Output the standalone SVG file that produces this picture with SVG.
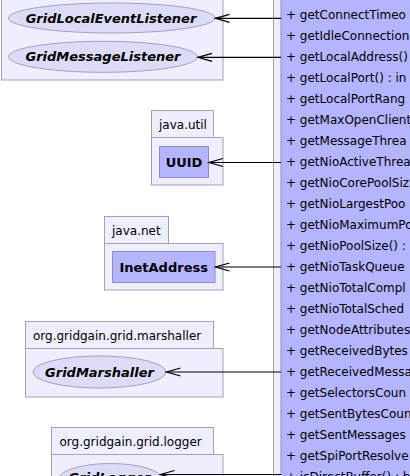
<svg xmlns="http://www.w3.org/2000/svg" width="410" height="476" viewBox="0 0 410 476">
<style>
.pkg{fill:#eeeefc;stroke:#a3a3b8;stroke-width:1}
.cls{fill:#b4b4ff;stroke:#8f8fb8;stroke-width:1}
.itf{fill:#dcdcf6;stroke:#a0a0c4;stroke-width:1}
.lbl{font-family:"DejaVu Sans",sans-serif;font-size:12px;fill:#000}
.nm{font-family:"DejaVu Sans",sans-serif;font-size:13px;font-weight:bold;fill:#000;text-anchor:middle}
.it{font-style:italic}
.row{font-family:"DejaVu Sans",sans-serif;font-size:12px;fill:#000}
.dep{stroke:#000;stroke-width:1.2;fill:none;marker-end:url(#open)}
</style>
<defs>
<marker id="open" markerUnits="userSpaceOnUse" markerWidth="20" markerHeight="12" refX="0" refY="6" orient="auto" overflow="visible">
<path d="M-14,2 L0,6 L-14,10" fill="none" stroke="#000" stroke-width="1.2"/>
</marker>
</defs>
<rect width="410" height="476" fill="#fff"/>

<g id="class-main">
<rect x="273.5" y="-10" width="150" height="500" fill="#eeeefc" stroke="#a3a3b8"/>
<rect x="281" y="-10" width="140" height="500" class="cls"/>
<text class="row" x="286" y="18.5">+ getConnectTimeo</text>
<text class="row" x="286" y="39.5">+ getIdleConnection</text>
<text class="row" x="286" y="60.5">+ getLocalAddress()</text>
<text class="row" x="286" y="81.5">+ getLocalPort() : in</text>
<text class="row" x="286" y="102.5">+ getLocalPortRang</text>
<text class="row" x="286" y="123.5">+ getMaxOpenClient</text>
<text class="row" x="286" y="144.5">+ getMessageThrea</text>
<text class="row" x="286" y="165.5">+ getNioActiveThrea</text>
<text class="row" x="286" y="186.5">+ getNioCorePoolSiz</text>
<text class="row" x="286" y="207.5">+ getNioLargestPoo</text>
<text class="row" x="286" y="228.5">+ getNioMaximumPo</text>
<text class="row" x="286" y="249.5">+ getNioPoolSize() :</text>
<text class="row" x="286" y="270.5">+ getNioTaskQueue</text>
<text class="row" x="286" y="291.5">+ getNioTotalCompl</text>
<text class="row" x="286" y="312.5">+ getNioTotalSched</text>
<text class="row" x="286" y="333.5">+ getNodeAttributes</text>
<text class="row" x="286" y="354.5">+ getReceivedBytes</text>
<text class="row" x="286" y="375.5">+ getReceivedMessa</text>
<text class="row" x="286" y="396.5">+ getSelectorsCoun</text>
<text class="row" x="286" y="417.5">+ getSentBytesCoun</text>
<text class="row" x="286" y="438.5">+ getSentMessages</text>
<text class="row" x="286" y="459.5">+ getSpiPortResolve</text>
<text class="row" x="286" y="480.5">+ isDirectBuffer() : b</text>
</g>

<g id="pkg-top">
<rect x="1.5" y="-10" width="221.5" height="90" class="pkg"/>
<g id="GridLocalEventListener">
<ellipse cx="111.7" cy="18" rx="103.3" ry="15" class="itf"/>
<text class="nm it" x="111" y="22.5">GridLocalEventListener</text>
</g>
<g id="GridMessageListener">
<ellipse cx="103" cy="56.8" rx="94.5" ry="15.5" class="itf"/>
<text class="nm it" x="103" y="61.3">GridMessageListener</text>
</g>
</g>

<g id="pkg-java-util">
<rect x="151.5" y="110.5" width="62" height="27" class="pkg"/>
<rect x="151.5" y="137.5" width="71.5" height="47.5" class="pkg"/>
<text class="lbl" x="159" y="128.5">java.util</text>
<g id="UUID">
<rect x="159.5" y="146.5" width="49" height="31" class="cls"/>
<text class="nm" x="184" y="167">UUID</text>
</g>
</g>

<g id="pkg-java-net">
<rect x="104.5" y="216.5" width="64" height="27" class="pkg"/>
<rect x="104.5" y="243.5" width="118.5" height="46.5" class="pkg"/>
<text class="lbl" x="112" y="234.5">java.net</text>
<g id="InetAddress">
<rect x="112.5" y="251.5" width="102.5" height="31" class="cls"/>
<text class="nm" x="163.7" y="271.5">InetAddress</text>
</g>
</g>

<g id="pkg-marshaller">
<rect x="25.5" y="321.5" width="188" height="27" class="pkg"/>
<rect x="25.5" y="348.5" width="197.5" height="48.5" class="pkg"/>
<text class="lbl" x="33" y="339.5">org.gridgain.grid.marshaller</text>
<g id="GridMarshaller">
<ellipse cx="99.5" cy="372" rx="66.5" ry="16" class="itf"/>
<text class="nm it" x="99.5" y="376.5">GridMarshaller</text>
</g>
</g>

<g id="pkg-logger">
<rect x="51.5" y="427.5" width="162" height="27" class="pkg"/>
<rect x="51.5" y="454.5" width="171.5" height="40" class="pkg"/>
<text class="lbl" x="59.5" y="445.5">org.gridgain.grid.logger</text>
<g id="GridLogger">
<ellipse cx="110.5" cy="479.5" rx="52" ry="16" class="itf"/>
<text class="nm it" x="109.5" y="482">GridLogger</text>
</g>
</g>

<g id="connectors">
<line class="dep" x1="281" y1="18.3" x2="215.5" y2="18.3"/>
<line class="dep" x1="281" y1="57.3" x2="198" y2="57.3"/>
<line class="dep" x1="281" y1="162.5" x2="209" y2="162.5"/>
<line class="dep" x1="281" y1="267" x2="215.5" y2="267"/>
<line class="dep" x1="281" y1="372" x2="166.5" y2="372"/>
<line class="dep" x1="281" y1="474.5" x2="160.5" y2="474.5"/>
</g>
</svg>
